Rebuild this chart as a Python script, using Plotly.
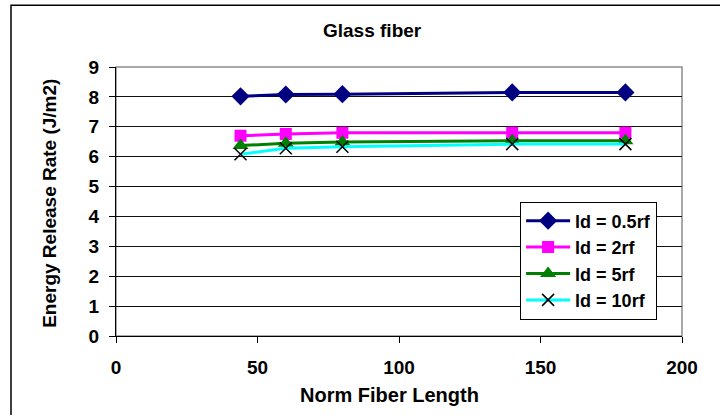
import plotly.graph_objects as go

norm_fiber_length = [44, 60, 80, 140, 180]
ld_05rf = [8.02, 8.08, 8.09, 8.15, 8.15]
ld_2rf = [6.70, 6.76, 6.80, 6.80, 6.80]
ld_5rf = [6.37, 6.45, 6.49, 6.53, 6.53]
ld_10rf = [6.08, 6.28, 6.33, 6.42, 6.42]
series_names = ["ld = 0.5rf", "ld = 2rf", "ld = 5rf", "ld = 10rf"]
y_ticks = list(range(0, 10))
x_ticks = [0, 50, 100, 150, 200]

FONT = "Liberation Sans, Arial, sans-serif"

fig = go.Figure()
styles = [
    dict(color="#000080", symbol="diamond", size=14, lc="#000080", lw=0),
    dict(color="#FF00FF", symbol="square", size=12, lc="#FF00FF", lw=0),
    dict(color="#008000", symbol="triangle-up", size=14, lc="#008000", lw=0),
    dict(color="#00FFFF", symbol="x-thin", size=12, lc="#000000", lw=1.5),
]
for name, vals, st in zip(series_names, [ld_05rf, ld_2rf, ld_5rf, ld_10rf], styles):
    fig.add_trace(go.Scatter(
        x=norm_fiber_length, y=vals, name=name, mode="lines+markers",
        line=dict(color=st["color"], width=3),
        marker=dict(symbol=st["symbol"], size=st["size"], color=st["color"],
                    line=dict(color=st["lc"], width=st["lw"])),
    ))

fig.update_layout(
    width=720, height=415,
    margin=dict(l=116, r=38, t=67, b=79),
    paper_bgcolor="white", plot_bgcolor="white",
    font=dict(family=FONT, size=19, color="black", weight=700),
    showlegend=True,
    legend=dict(x=0.956, y=0.5, xanchor="right", yanchor="top",
                bordercolor="black", borderwidth=1, bgcolor="white",
                font=dict(family=FONT, size=18, weight=700),
                tracegroupgap=0, itemwidth=44),
    xaxis=dict(range=[0, 200], tickvals=x_ticks, ticks="outside", ticklen=6,
               tickcolor="black", showline=True, linecolor="black", linewidth=1,
               showgrid=False, zeroline=False, ticklabelstandoff=8,
               tickfont=dict(family=FONT, size=19, weight=700)),
    yaxis=dict(range=[0, 9], tickvals=y_ticks, ticks="outside", ticklen=6,
               tickcolor="black", showline=True, linecolor="black", linewidth=1,
               showgrid=True, gridcolor="#111111", gridwidth=1, zeroline=False,
               ticklabelstandoff=6,
               tickfont=dict(family=FONT, size=19, weight=700)),
    shapes=[
        dict(type="rect", xref="paper", yref="paper", x0=0, y0=0, x1=1, y1=1,
             line=dict(color="#8c8c8c", width=1.5), layer="below"),
        dict(type="rect", xref="paper", yref="paper", x0=-0.1855, y0=-0.4,
             x1=1.2, y1=1.2294, line=dict(color="black", width=1.5), layer="below"),
    ],
    annotations=[
        dict(text="Glass fiber", xref="paper", yref="paper", x=0.454, y=1.1364,
             showarrow=False, xanchor="center", yanchor="middle",
             font=dict(family=FONT, size=19, weight=700)),
        dict(text="Norm Fiber Length", xref="paper", yref="paper", x=0.484, y=-0.2204,
             showarrow=False, xanchor="center", yanchor="middle",
             font=dict(family=FONT, size=20, weight=700)),
        dict(text="Energy Release Rate (J/m2)", xref="paper", yref="paper",
             x=-0.1166, y=0.4914, textangle=-90, showarrow=False,
             xanchor="center", yanchor="middle",
             font=dict(family=FONT, size=19, weight=700)),
    ],
)

fig.write_html("out.html")
